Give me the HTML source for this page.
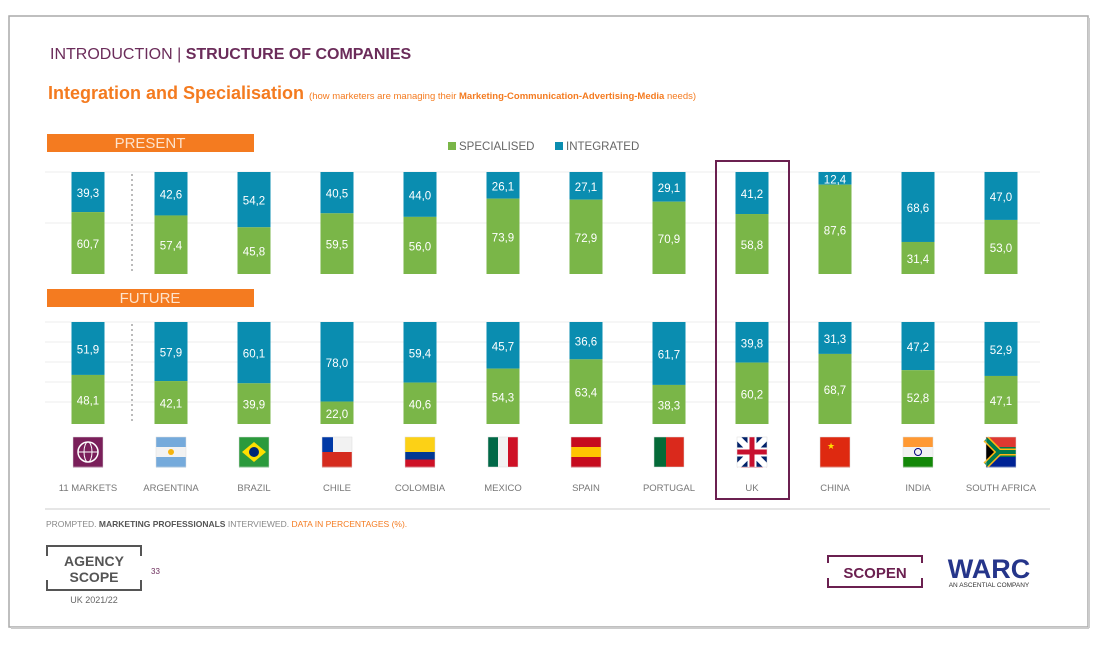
<!DOCTYPE html>
<html><head><meta charset="utf-8"><style>
body{margin:0;background:#fff;width:1097px;height:642px;overflow:hidden;font-family:"Liberation Sans",sans-serif}
svg text{font-family:"Liberation Sans",sans-serif}
</style></head><body>
<svg id="c" width="1097" height="642" xmlns="http://www.w3.org/2000/svg">
<rect x="9" y="16" width="1079" height="611" fill="#fff" stroke="#aaa" stroke-width="1.5"/>
<line x1="1089" y1="18" x2="1089" y2="628" stroke="#ccc" stroke-width="2"/>
<line x1="11" y1="628" x2="1089" y2="628" stroke="#ccc" stroke-width="2"/>
<text x="50" y="59" font-size="16" fill="#6b2c5a">INTRODUCTION | <tspan font-weight="bold">STRUCTURE OF COMPANIES</tspan></text>
<text x="48" y="99" font-size="18" font-weight="bold" fill="#f47b20">Integration and Specialisation <tspan font-size="9.5" font-weight="normal">(how marketers are managing their <tspan font-weight="bold">Marketing-Communication-Advertising-Media</tspan> needs)</tspan></text>
<rect x="47" y="134" width="207" height="18" fill="#f47b20"/>
<text x="150" y="148" font-size="15" fill="#fde3cc" text-anchor="middle">PRESENT</text>
<rect x="47" y="289" width="207" height="18" fill="#f47b20"/>
<text x="150" y="303" font-size="15" fill="#fde3cc" text-anchor="middle">FUTURE</text>
<g>
<rect x="448" y="142" width="8" height="8" fill="#7ab648"/>
<text x="459" y="150" font-size="11.5" fill="#666">SPECIALISED</text>
<rect x="555" y="142" width="8" height="8" fill="#0a8db0"/>
<text x="566" y="150" font-size="11.5" fill="#666">INTEGRATED</text>
</g>
<g id="grid"></g><g id="bars"></g><g id="flags"></g>
<line x1="132" y1="174" x2="132" y2="274" stroke="#777" stroke-dasharray="2,3"/>
<line x1="132" y1="324" x2="132" y2="424" stroke="#777" stroke-dasharray="2,3"/>
<rect x="716" y="161" width="73" height="338" fill="none" stroke="#6b2050" stroke-width="2"/>
<line x1="45" y1="509" x2="1050" y2="509" stroke="#ddd" stroke-width="1.5"/>
<text x="46" y="527" font-size="8.5" fill="#888">PROMPTED. <tspan font-weight="bold" fill="#555">MARKETING PROFESSIONALS</tspan> INTERVIEWED. <tspan fill="#f47b20">DATA IN PERCENTAGES (%).</tspan></text>
<g>
<path d="M47 556 V546 H141 V556 M47 580 V590 H141 V580" fill="none" stroke="#555" stroke-width="2"/>
<text x="94" y="566" font-size="14" font-weight="bold" fill="#555" text-anchor="middle">AGENCY</text>
<text x="94" y="582" font-size="14" font-weight="bold" fill="#555" text-anchor="middle">SCOPE</text>
<text x="94" y="603" font-size="9" fill="#666" text-anchor="middle">UK 2021/22</text>
<text x="151" y="574" font-size="8" fill="#6b2c5a">33</text>
</g>
<g>
<path d="M828 563 V556 H922 V563 M828 578 V587 H922 V578" fill="none" stroke="#6b2050" stroke-width="2"/>
<text x="875" y="578" font-size="15" font-weight="bold" fill="#6b2050" text-anchor="middle">SCOPEN</text>
</g>
<g>
<text x="989" y="578" font-size="27" font-weight="bold" fill="#25358a" text-anchor="middle">WARC</text>
<text x="989" y="587" font-size="6.5" fill="#333" text-anchor="middle">AN ASCENTIAL COMPANY</text>
</g>
</svg>
<script>
const markets=["11 MARKETS","ARGENTINA","BRAZIL","CHILE","COLOMBIA","MEXICO","SPAIN","PORTUGAL","UK","CHINA","INDIA","SOUTH AFRICA"];
const presentSpecialised=[60.7,57.4,45.8,59.5,56.0,73.9,72.9,70.9,58.8,87.6,31.4,53.0];
const presentIntegrated=[39.3,42.6,54.2,40.5,44.0,26.1,27.1,29.1,41.2,12.4,68.6,47.0];
const futureSpecialised=[48.1,42.1,39.9,22.0,40.6,54.3,63.4,38.3,60.2,68.7,52.8,47.1];
const futureIntegrated=[51.9,57.9,60.1,78.0,59.4,45.7,36.6,61.7,39.8,31.3,47.2,52.9];
const NS="http://www.w3.org/2000/svg";
function el(t,a,p){const e=document.createElementNS(NS,t);for(const k in a)e.setAttribute(k,a[k]);p.appendChild(e);return e;}
const xC=i=>88+i*83, BW=33, H=102;
const grid=document.getElementById('grid'),bars=document.getElementById('bars'),flags=document.getElementById('flags');
[172,223].forEach(y=>{const l=el('line',{x1:45,x2:1040,y1:y,y2:y,stroke:'#eee'},grid);

});
[322,342,362,382,402].forEach(y=>{const l=el('line',{x1:45,x2:1040,y1:y,y2:y,stroke:'#eee'},grid);

});
function panel(top,spec,integ,tag){
 const sc=v=>v/100*H;
 markets.forEach((m,i)=>{
  const x=xC(i)-BW/2, tot=spec[i]+integ[i];
  const hi=sc(integ[i]/tot*100), hs=H-hi;
  const r1=el('rect',{x:x,y:top,width:BW,height:hi,fill:'#0a8db0'},bars);
  
  
  const r2=el('rect',{x:x,y:top+hi,width:BW,height:hs,fill:'#7ab648'},bars);
  
  
  const f=v=>v.toFixed(1).replace('.',',');
  const t1=el('text',{x:xC(i),y:top+Math.min(hi,48)/2+5+(hi>48?(hi-48)/2:0),'font-size':11.5,fill:'#fff','text-anchor':'middle'},bars);t1.textContent=f(integ[i]);
  
  
  const t2=el('text',{x:xC(i),y:top+hi+hs/2+5,'font-size':11.5,fill:'#fff','text-anchor':'middle'},bars);t2.textContent=f(spec[i]);
  
  
 });
}
panel(172,presentSpecialised,presentIntegrated,'present');
panel(322,futureSpecialised,futureIntegrated,'future');
const flagFill=[['#7a1f5a'],['#75aadb','#f2f2f2','#75aadb'],['#2b9a3c'],['#f2f2f2','#d52b1e'],['#fcd116','#fcd116','#003893','#ce1126'],['#006847','#f2f2f2','#ce1126'],['#c60b1e','#ffc400','#c60b1e'],['#046a38','#da291c'],['#c8102e'],['#de2910'],['#ff9933','#f2f2f2','#138808'],['#de3831','#007a4d','#002395']];
markets.forEach((m,i)=>{
 const x=xC(i)-15,y=437;
 const g=el('g',{},flags);
 
 
 const c=flagFill[i];
 const vertical=(i==5||i==7);
 c.forEach((col,k)=>{
  if(vertical){const w=i==7?(k==0?12:18):10;el('rect',{x:x+(i==7?(k==0?0:12):k*10),y:y,width:w,height:30,fill:col},g);}
  else el('rect',{x:x,y:y+k*30/c.length,width:30,height:30/c.length+0.5,fill:col},g);
 });
 if(i==0){el('circle',{cx:x+15,cy:y+15,r:10,fill:'none',stroke:'#fff','stroke-width':1.5},g);el('ellipse',{cx:x+15,cy:y+15,rx:4,ry:10,fill:'none',stroke:'#fff'},g);el('line',{x1:x+5,x2:x+25,y1:y+15,y2:y+15,stroke:'#fff'},g);}
 if(i==1){el('circle',{cx:x+15,cy:y+15,r:3,fill:'#f6b40e'},g);}
 if(i==10){el('circle',{cx:x+15,cy:y+15,r:3.5,fill:'none',stroke:'#000080'},g);}
 if(i==2){el('polygon',{points:`${x+15},${y+5} ${x+27},${y+15} ${x+15},${y+25} ${x+3},${y+15}`,fill:'#fedf00'},g);el('circle',{cx:x+15,cy:y+15,r:5,fill:'#002776'},g);}
 if(i==3){el('rect',{x:x,y:y,width:11,height:15,fill:'#0039a6'},g);}
 if(i==8){el('rect',{x:x,y:y,width:30,height:30,fill:'#012169'},g);el('path',{d:`M${x} ${y}L${x+30} ${y+30}M${x+30} ${y}L${x} ${y+30}`,stroke:'#fff','stroke-width':6},g);el('path',{d:`M${x+15} ${y}V${y+30}M${x} ${y+15}H${x+30}`,stroke:'#fff','stroke-width':9},g);el('path',{d:`M${x+15} ${y}V${y+30}M${x} ${y+15}H${x+30}`,stroke:'#c8102e','stroke-width':5},g);}
 if(i==11){el('polygon',{points:`${x},${y} ${x+14},${y+15} ${x},${y+30}`,fill:'#000'},g);el('path',{d:`M${x} ${y+2}L${x+13} ${y+15}L${x} ${y+28}M${x+13} ${y+15}H${x+30}`,stroke:'#ffb612','stroke-width':7,fill:'none'},g);el('path',{d:`M${x} ${y+2}L${x+13} ${y+15}L${x} ${y+28}M${x+13} ${y+15}H${x+30}`,stroke:'#007a4d','stroke-width':4,fill:'none'},g);}
 if(i==9){el('text',{x:x+7,y:y+12,'font-size':9,fill:'#ffde00'},g).textContent='★';}
 el('rect',{x:x,y:y,width:30,height:30,fill:'none',stroke:'#ddd','stroke-width':0.5},g);
 const t=el('text',{x:xC(i),y:491,'font-size':9.5,fill:'#777','text-anchor':'middle'},flags);t.textContent=m;
 
 
});
</script>
</body></html>
